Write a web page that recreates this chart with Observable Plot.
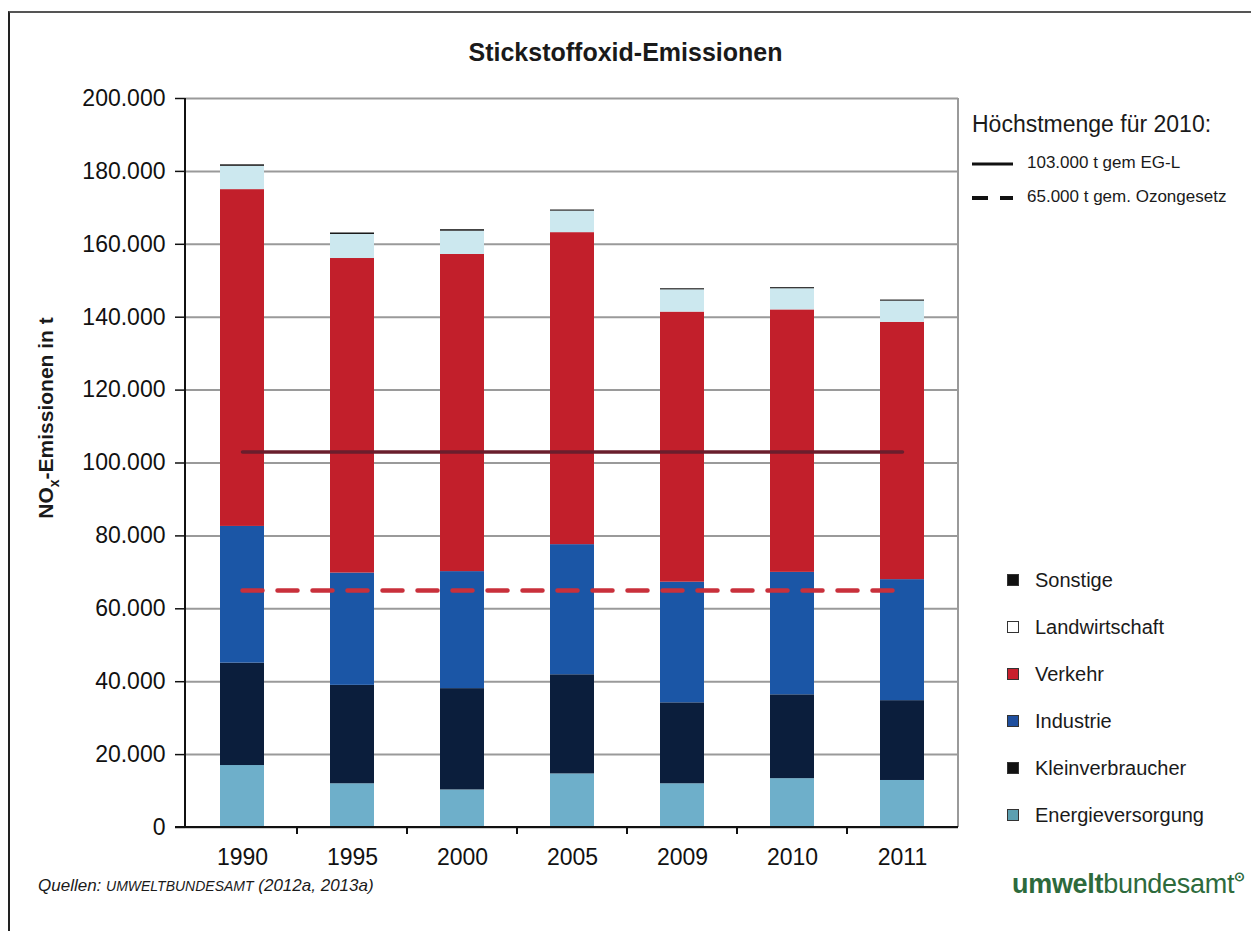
<!DOCTYPE html>
<html>
<head>
<meta charset="utf-8">
<script src="https://cdn.jsdelivr.net/npm/d3@7"></script>
<script src="https://cdn.jsdelivr.net/npm/@observablehq/plot@0.6"></script>
<style>
  body { margin: 0; background: #fff; font-family: "Liberation Sans", Arial, sans-serif; color: #1a1a1a; }
  #wrap { position: relative; width: 1251px; height: 931px; overflow: hidden; background: #fff; }
  #frame { position: absolute; left: 8px; top: 11px; width: 1300px; height: 1000px; border-left: 2px solid #222; border-top: 2px solid #555; }
  #chart { position: absolute; left: 0; top: 0; }
  #title { position: absolute; left: 0; width: 1251px; top: 38px; text-align: center; font-weight: bold; font-size: 25px; }
  #ylabel { position: absolute; left: 48px; top: 418px; transform: translate(-50%, -50%) rotate(-90deg); white-space: nowrap; font-weight: bold; font-size: 21px; }
  #ylabel sub { font-size: 14px; }
  .lim { position: absolute; left: 972px; font-size: 17px; white-space: nowrap; }
  .lim svg { vertical-align: middle; margin-right: 14px; }
  #limtitle { position: absolute; left: 972px; top: 111px; font-size: 23px; white-space: nowrap; }
  .leg { position: absolute; left: 1007px; font-size: 20px; white-space: nowrap; display: flex; align-items: center; }
  .leg i { display: inline-block; width: 10px; height: 10px; margin-right: 16px; border: 1px solid #333; }
  #source { position: absolute; left: 38px; top: 876px; font-style: italic; font-size: 17px; }
  #source span { font-size: 14px; }
  #logo { position: absolute; left: 1012px; top: 869px; font-size: 27px; color: #2d6a3c; letter-spacing: -0.3px; }
  #logo b { font-weight: bold; }
  #logo sup { font-size: 13px; font-weight: bold; vertical-align: 12px; }
</style>
</head>
<body>
<div id="wrap">
  <div id="frame"></div>
  <div id="chart"></div>
  <div id="title">Stickstoffoxid-Emissionen</div>
  <div id="ylabel">NO<sub>x</sub>-Emissionen in t</div>
  <div id="limtitle">Höchstmenge für 2010:</div>
  <div id="limits"></div>
  <div id="legend"></div>
  <div id="source">Quellen: <span>UMWELTBUNDESAMT</span> (2012a, 2013a)</div>
  <div id="logo"><b>umwelt</b>bundesamt<sup>⊙</sup></div>
</div>
<script>
// ---------- data ----------
const years = ["1990", "1995", "2000", "2005", "2009", "2010", "2011"];
// stacking order, bottom to top
const categories = ["Energieversorgung", "Kleinverbraucher", "Industrie", "Verkehr", "Landwirtschaft", "Sonstige"];
const energieversorgung = [17000, 12000, 10300, 14700, 12000, 13400, 12900];
const kleinverbraucher  = [28100, 27000, 27800, 27200, 22200, 23000, 21900];
const industrie         = [37500, 30800, 32100, 35700, 33100, 33600, 33200];
const verkehr           = [92400, 86300, 87000, 85600, 74100, 72000, 70600];
const landwirtschaft    = [6400, 6600, 6400, 5900, 6100, 5800, 5800];
const sonstige          = [400, 400, 400, 300, 300, 300, 300];
const yTicks = [0, 20000, 40000, 60000, 80000, 100000, 120000, 140000, 160000, 180000, 200000];
const limitEG = 103000;      // 103.000 t gem EG-L
const limitOzon = 65000;     // 65.000 t gem. Ozongesetz
const limitLabels = ["103.000 t gem EG-L", "65.000 t gem. Ozongesetz"];

// ---------- styles ----------
const barColors = ["#6eafca", "#0b1e3c", "#1b56a6", "#c21f2b", "#cce8ef", "#111111"];
const legendColors = ["#5c9fb0", "#111111", "#1f4f9e", "#c8202d", "#ffffff", "#111111"];

const series = [energieversorgung, kleinverbraucher, industrie, verkehr, landwirtschaft, sonstige];
const data = [];
categories.forEach((c, ci) => years.forEach((y, yi) => data.push({year: y, category: c, value: series[ci][yi]})));

const deFormat = d3.formatLocale({decimal: ",", thousands: ".", grouping: [3], currency: ["", " €"]}).format(",");

const W = 1251, H = 880;

// axis lines and band-boundary ticks drawn from the scales
function axesMark(index, scales, values, dims) {
  const x = scales.x, y = scales.y;
  const g = d3.create("svg:g");
  const x0 = dims.marginLeft, x1 = dims.width - dims.marginRight;
  const yb = y(0), yt = y(200000);
  // right border
  g.append("line").attr("x1", x1).attr("x2", x1).attr("y1", yt).attr("y2", yb).attr("stroke", "#9a9a9a").attr("stroke-width", 2);
  // y axis line
  g.append("line").attr("x1", x0).attr("x2", x0).attr("y1", yt).attr("y2", yb + 1).attr("stroke", "#111").attr("stroke-width", 2);
  // x axis line
  g.append("line").attr("x1", x0 - 10).attr("x2", x1).attr("y1", yb).attr("y2", yb).attr("stroke", "#111").attr("stroke-width", 2);
  // ticks between categories
  const step = (x(years[1]) - x(years[0]));
  years.slice(1).forEach((yr) => {
    const bx = x(yr) - (step - (x.bandwidth ? x.bandwidth() : 0)) / 2;
    g.append("line").attr("x1", bx).attr("x2", bx).attr("y1", yb).attr("y2", yb + 7).attr("stroke", "#111").attr("stroke-width", 2);
  });
  return g.node();
}

const plot = Plot.plot({
  width: W,
  height: H,
  marginTop: 98,
  marginBottom: H - 827,
  marginLeft: 185,
  marginRight: W - 958,
  style: {fontFamily: "'Liberation Sans', Arial, sans-serif", fontSize: "23px", color: "#111", background: "transparent"},
  x: {domain: years, paddingInner: 0.6, paddingOuter: 0.3, label: null},
  y: {domain: [0, 200000], label: null},
  color: {domain: categories, range: barColors},
  marks: [
    Plot.ruleY(yTicks, {y: d => d, stroke: "#9a9a9a", strokeWidth: 2}),
    Plot.barY(data, {x: "year", y: "value", fill: "category", order: categories}),
    Plot.lineY(years, {x: d => d, y: () => limitEG, stroke: "#6a1e2d", strokeWidth: 3.5}),
    Plot.lineY(years, {x: d => d, y: () => limitOzon, stroke: "#c9303b", strokeWidth: 4.5, strokeDasharray: "20,15"}),
    Plot.axisY({ticks: yTicks, tickFormat: deFormat, tickSize: 10, tickPadding: 10, fontSize: 23, stroke: "#111", strokeWidth: 1.5}),
    Plot.axisX({tickSize: 0, tickPadding: 21, fontSize: 23}),
    axesMark
  ]
});
document.getElementById("chart").appendChild(plot);

// limit legend
const lim = document.getElementById("limits");
const limTops = [153, 187];
limitLabels.forEach((t, i) => {
  const div = document.createElement("div");
  div.className = "lim";
  div.style.top = limTops[i] + "px";
  const dash = i === 1 ? ' stroke-dasharray="16,12"' : "";
  div.innerHTML = `<svg width="41" height="8"><line x1="0" x2="41" y1="4" y2="4" stroke="#111" stroke-width="${i === 1 ? 4 : 3}"${dash}/></svg>${t}`;
  lim.appendChild(div);
});

// category legend (top to bottom = reverse stacking order)
const leg = document.getElementById("legend");
const legCenters = [580, 627, 674, 721, 768, 815];
categories.slice().reverse().forEach((c, i) => {
  const ci = categories.indexOf(c);
  const div = document.createElement("div");
  div.className = "leg";
  div.style.top = (legCenters[i] - 12) + "px";
  div.style.height = "24px";
  div.innerHTML = `<i style="background:${legendColors[ci]}"></i>${c}`;
  leg.appendChild(div);
});
</script>
</body>
</html>
